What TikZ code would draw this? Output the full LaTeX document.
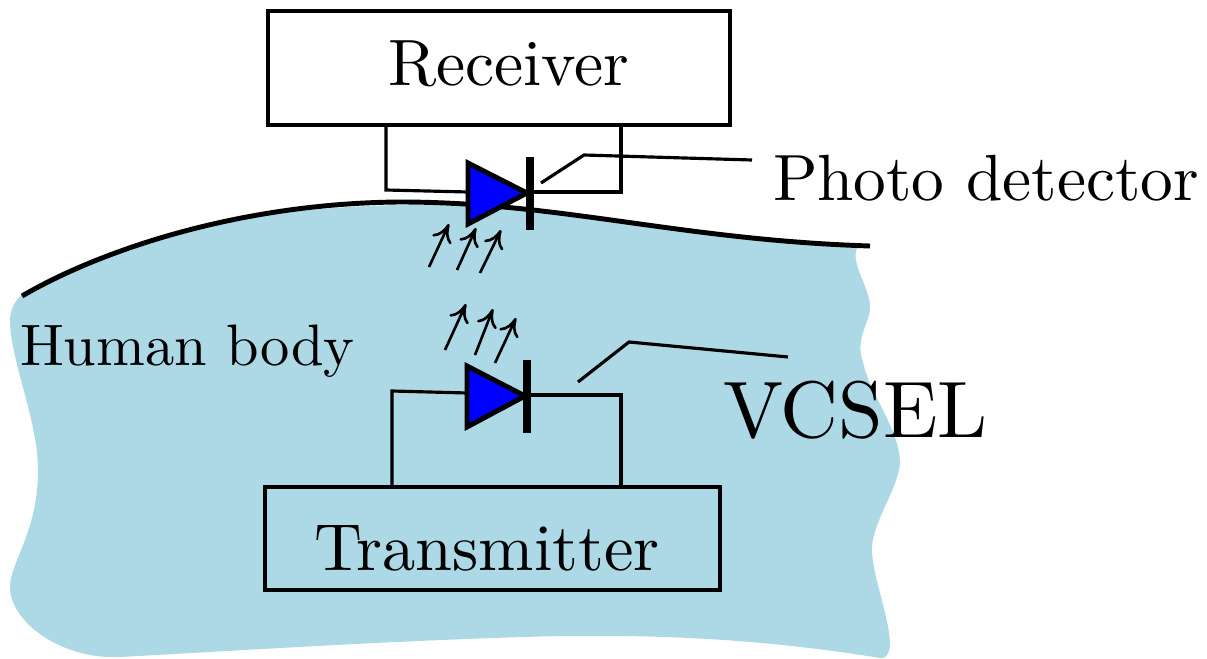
\documentclass[tikz,border=0pt]{standalone}
\usepackage{amsmath}
\usetikzlibrary{arrows.meta}
\definecolor{bodyblue}{HTML}{ADD8E6}
\tikzset{
  box/.style={draw, line width=2.2pt, inner sep=0pt, outer sep=0pt},
  wire/.style={line width=1.8pt, line join=miter},
  skin/.style={line width=2.8pt},
  diode/.style={draw, fill=blue, line width=2.8pt, line join=miter},
  diodebar/.style={line width=4.6pt},
  ray/.style={line width=1.5pt, -{Computer Modern Rightarrow[length=3.6mm, width=4.2mm]}},
  tag/.style={anchor=base west, inner sep=0pt, outer sep=0pt, text=black},
}
\begin{document}
\begin{tikzpicture}[x=0.02cm, y=-0.02cm]
  \useasboundingbox (0,0) rectangle (1207,659);
  % Body region
  \fill[bodyblue] (22,295) .. controls (40,280) and (90,258) .. (130,247)
    .. controls (220,215) and (330,206) .. (400,205)
    .. controls (520,203) and (640,225) .. (857,248)
    .. controls (850,265) and (872,290) .. (870,310)
    .. controls (868,325) and (855,340) .. (863,362)
    .. controls (870,395) and (900,430) .. (900,463)
    .. controls (898,490) and (870,525) .. (872,553)
    .. controls (874,580) and (890,620) .. (890,645)
    .. controls (889,655) and (885,659) .. (880,658)
    .. controls (800,645) and (700,634) .. (560,636)
    .. controls (400,640) and (250,650) .. (120,657)
    .. controls (60,660) and (8,620) .. (10,585)
    .. controls (12,560) and (38,530) .. (38,470)
    .. controls (38,420) and (10,360) .. (10,320)
    .. controls (10,310) and (15,300) .. (22,295) -- cycle;
  \draw[skin] (22,296) .. controls (110,245) and (250,203) .. (400,202)
    .. controls (560,202) and (680,240) .. (870,246);
  % Receiver side
  \node[box, minimum width=9.24cm, minimum height=2.28cm] (receiver) at (499,68) {};
  \node[tag, scale=3.73] (receivertext) at (388,85) {Receiver};
  \coordinate (pdin) at (468,192);
  \coordinate (pdout) at (530,192);
  \coordinate (pdleft) at (386,190);
  \coordinate (pdright) at (621,192);
  \draw[wire] (receiver.south -| pdleft) -- (pdleft) -- (pdin);
  \draw[wire] (pdout) -- (pdright) -- (receiver.south -| pdright);
  \draw[diode] (468,163) -- (468,224) -- (527,193) -- cycle;
  \draw[diodebar] (530,157) -- (530,230);
  % Photo detector label
  \node[tag, scale=3.72] (pdtext) at (773,200) {Photo detector};
  \coordinate (pdtip) at (541,183);
  \coordinate (pdbend) at (584,155);
  \coordinate (pdend) at (752,160);
  \draw[wire] (pdtip) -- (pdbend) -- (pdend);
  % Rays into the detector
  \draw[ray] (429,267) -- (449,224);
  \draw[ray] (457,270) -- (476,228);
  \draw[ray] (480,273) -- (501,230);
  % Rays out of the laser
  \draw[ray] (445,350) -- (466,304);
  \draw[ray] (475,355) -- (493,309);
  \draw[ray] (495,363) -- (516,318);
  % Transmitter side
  \node[box, minimum width=9.1cm, minimum height=2.06cm] (transmitter) at (492.5,538.5) {};
  \node[tag, scale=3.78] (transmittertext) at (314,570) {Transmitter};
  \coordinate (vcin) at (467,393);
  \coordinate (vcout) at (527,395);
  \coordinate (vcleft) at (392,391);
  \coordinate (vcright) at (621,395);
  \draw[wire] (transmitter.north -| vcleft) -- (vcleft) -- (vcin);
  \draw[wire] (vcout) -- (vcright) -- (transmitter.north -| vcright);
  \draw[diode] (467,366) -- (467,427) -- (525,396) -- cycle;
  \draw[diodebar] (527,360) -- (527,433);
  % VCSEL label
  \node[tag, scale=4.56] (vcseltext) at (723,437) {VCSEL};
  \coordinate (vctip) at (578,382);
  \coordinate (vcbend) at (629,342);
  \coordinate (vcend) at (788,357);
  \draw[wire] (vctip) -- (vcbend) -- (vcend);
  % Body label
  \node[tag, scale=3.33] (bodytext) at (20,365) {Human body};
\end{tikzpicture}
\end{document}
